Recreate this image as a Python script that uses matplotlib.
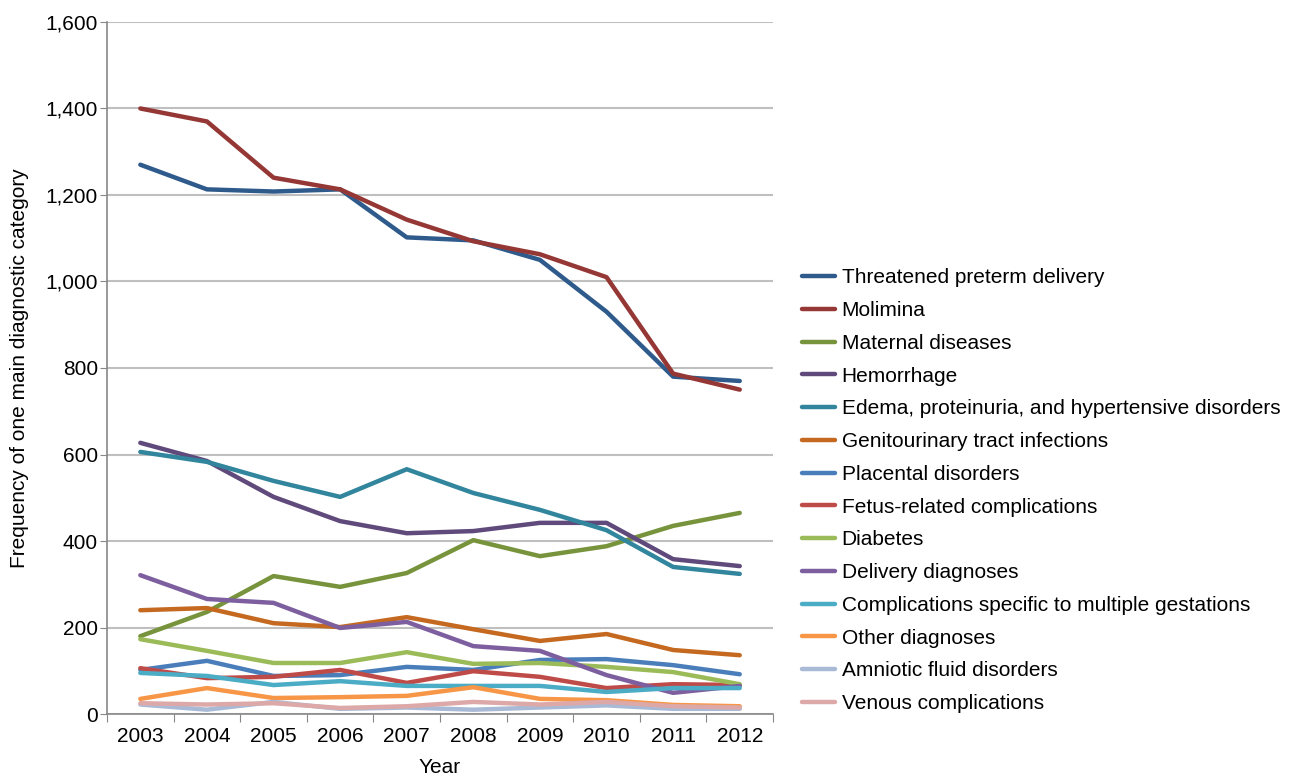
import matplotlib
matplotlib.use("Agg")
import matplotlib.pyplot as plt
from matplotlib.ticker import FuncFormatter, FixedLocator

years = ["2003", "2004", "2005", "2006", "2007", "2008", "2009", "2010", "2011", "2012"]

threatened = [1270, 1213, 1208, 1213, 1102, 1095, 1050, 930, 780, 770]
molimina = [1400, 1370, 1240, 1213, 1143, 1093, 1063, 1010, 787, 750]
maternal = [180, 236, 319, 294, 326, 402, 365, 388, 435, 465]
hemorrhage = [627, 585, 502, 446, 418, 423, 442, 442, 358, 342]
edema = [606, 583, 539, 502, 566, 511, 472, 425, 340, 324]
genito = [240, 245, 210, 201, 224, 196, 169, 185, 148, 136]
placental = [102, 123, 88, 90, 109, 102, 125, 127, 113, 92]
fetus = [106, 83, 86, 102, 72, 99, 86, 60, 69, 67]
diabetes = [173, 146, 118, 118, 143, 116, 118, 109, 97, 69]
delivery = [321, 266, 257, 199, 213, 157, 146, 90, 49, 65]
multiple = [95, 88, 67, 76, 65, 65, 65, 51, 60, 60]
other = [35, 60, 37, 39, 42, 62, 35, 32, 21, 18]
amniotic = [22, 10, 28, 12, 15, 10, 15, 20, 12, 12]
venous = [25, 22, 25, 14, 18, 28, 22, 28, 18, 15]

series = [
    ("Threatened preterm delivery", threatened, "#2F5B8C"),
    ("Molimina", molimina, "#953735"),
    ("Maternal diseases", maternal, "#77933C"),
    ("Hemorrhage", hemorrhage, "#5F4A7B"),
    ("Edema, proteinuria, and hypertensive disorders", edema, "#31859C"),
    ("Genitourinary tract infections", genito, "#C4691F"),
    ("Placental disorders", placental, "#4A7EBB"),
    ("Fetus-related complications", fetus, "#BE4B48"),
    ("Diabetes", diabetes, "#9BBB59"),
    ("Delivery diagnoses", delivery, "#7D5FA0"),
    ("Complications specific to multiple gestations", multiple, "#4BACC6"),
    ("Other diagnoses", other, "#F79646"),
    ("Amniotic fluid disorders", amniotic, "#A9BAD6"),
    ("Venous complications", venous, "#DDA9A8"),
]

plt.rcParams['font.family'] = ['Liberation Sans', 'DejaVu Sans']

fig = plt.figure(figsize=(12.99, 7.79), dpi=100)
ax = fig.add_axes([0.0824, 0.0834, 0.5127, 0.8884])

x = list(range(len(years)))
for name, vals, col in series:
    ax.plot(x, vals, color=col, lw=3.2, label=name, solid_capstyle='round')

ax.set_xlim(-0.5, len(years) - 0.5)
ax.set_ylim(0, 1600)
ax.set_yticks(range(0, 1601, 200))
ax.yaxis.set_major_formatter(FuncFormatter(lambda v, p: f"{int(v):,}"))
ax.grid(axis='y', color='#BFBFBF', lw=1.5)
ax.set_axisbelow(True)

ax.xaxis.set_major_locator(FixedLocator([i - 0.5 for i in range(len(years) + 1)]))
ax.xaxis.set_major_formatter(FuncFormatter(lambda v, p: ""))
ax.set_xticks(x, minor=True)
ax.set_xticklabels(years, minor=True)
ax.tick_params(axis='x', which='major', length=6, color='#888888')
ax.tick_params(axis='x', which='minor', length=0, labelsize=15, pad=9)
ax.tick_params(axis='y', length=5, color='#888888', labelsize=15, pad=1.5)

for s in ['top', 'right']:
    ax.spines[s].set_visible(False)
for s in ['left', 'bottom']:
    ax.spines[s].set_color('#888888')
    ax.spines[s].set_linewidth(1.2)

ax.set_xlabel("Year", fontsize=15, labelpad=9)
ax.set_ylabel("Frequency of one main diagnostic category", fontsize=15, labelpad=12)

fig.legend(loc='center left', bbox_to_anchor=(0.603, 0.370), frameon=False,
           fontsize=15, handlelength=1.6, labelspacing=0.66, handletextpad=0.3)

fig.savefig("out.png", dpi=100)
